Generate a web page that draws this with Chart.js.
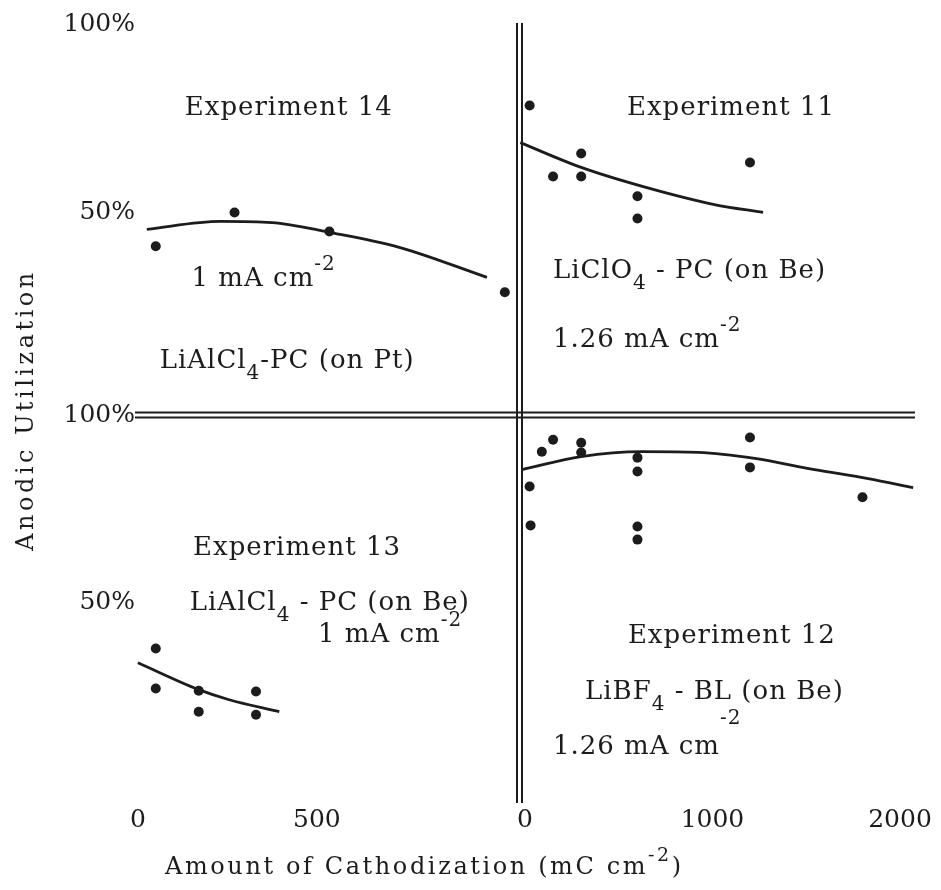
<!DOCTYPE html>
<html>
<head>
<meta charset="utf-8">
<script src="https://cdn.jsdelivr.net/npm/chart.js@4.4.1/dist/chart.umd.min.js"></script>
<style>
  html, body { margin: 0; padding: 0; background: #ffffff; }
  canvas { display: block; }
</style>
</head>
<body>
<canvas id="chart" width="941" height="890"></canvas>
<script>
// ---- Data (x: amount of cathodization, mC cm-2; y: anodic utilization, %) ----

// Experiment 14: LiAlCl4-PC on Pt, 1 mA cm-2 (upper left panel)
const exp14X = [50, 270, 535, 1025];
const exp14Y = [41.0, 50.0, 44.9, 28.7];
const exp14FitX = [25, 230, 375, 535, 730, 975];
const exp14FitY = [45.5, 47.6, 47.3, 44.7, 40.7, 32.7];

// Experiment 11: LiClO4 - PC on Be, 1.26 mA cm-2 (upper right panel)
const exp11X = [25, 150, 300, 300, 600, 600, 1200];
const exp11Y = [78.5, 59.6, 65.7, 59.6, 54.3, 48.4, 63.3];
const exp11FitX = [-25, 300, 650, 1010, 1270];
const exp11FitY = [68.6, 62.0, 56.6, 52.1, 50.0];

// Experiment 13: LiAlCl4 - PC on Be, 1 mA cm-2 (lower left panel)
const exp13X = [50, 50, 170, 170, 330, 330];
const exp13Y = [37.6, 26.9, 26.3, 20.7, 26.1, 19.9];
const exp13FitX = [0, 170, 255, 395];
const exp13FitY = [33.8, 26.6, 23.9, 20.7];

// Experiment 12: LiBF4 - BL on Be, 1.26 mA cm-2 (lower right panel)
const exp12X = [25, 30, 90, 150, 300, 300, 600, 600, 600, 600, 1200, 1200, 1800];
const exp12Y = [80.9, 70.5, 90.2, 93.4, 92.6, 90.0, 88.6, 84.9, 70.2, 66.7, 94.0, 86.0, 78.0];
const exp12FitX = [-15, 300, 625, 925, 1225, 1545, 1830, 2070];
const exp12FitY = [85.4, 88.9, 90.2, 90.0, 88.4, 85.4, 83.0, 80.6];

// Tick values
const leftTicks = [0, 500];
const rightTicks = [0, 1000, 2000];
const utilTicks = [50, 100];

// Panel labels ("_{..}" subscript, "^{..}" superscript), anchored in data units
const notes = [
  { text: 'Experiment 14', x: 131, y: 76.0, xAxis: 'xL', yAxis: 'yTop' },
  { text: 'Experiment 11', x: 544, y: 76.0, xAxis: 'xR', yAxis: 'yTop' },
  { text: '1 mA cm^{-2}', x: 150, y: 30.5, xAxis: 'xL', yAxis: 'yTop' },
  { text: 'LiClO_{4} - PC (on Be)', x: 149, y: 32.5, xAxis: 'xR', yAxis: 'yTop' },
  { text: '1.26 mA cm^{-2}', x: 149, y: 14.0, xAxis: 'xR', yAxis: 'yTop' },
  { text: 'LiAlCl_{4}-PC (on Pt)', x: 61, y: 8.5, xAxis: 'xL', yAxis: 'yTop' },
  { text: 'Experiment 13', x: 154, y: 62.5, xAxis: 'xL', yAxis: 'yBot' },
  { text: 'LiAlCl_{4} - PC (on Be)', x: 145, y: 48.0, xAxis: 'xL', yAxis: 'yBot' },
  { text: '1 mA cm^{-2}', x: 503, y: 39.4, xAxis: 'xL', yAxis: 'yBot' },
  { text: 'Experiment 12', x: 549, y: 39.0, xAxis: 'xR', yAxis: 'yBot' },
  { text: 'LiBF_{4} - BL (on Be)', x: 320, y: 24.0, xAxis: 'xR', yAxis: 'yBot' },
  { text: '1.26 mA cm^{-2}', x: 149, y: 9.5, xAxis: 'xR', yAxis: 'yBot', supRaise: 30 }
];

const INK = '#1c1c1c';
const SERIF = "'DejaVu Serif', 'Liberation Serif', serif";

function pts(xs, ys) { return xs.map((x, i) => ({ x: x, y: ys[i] })); }

function scatterSet(xs, ys, xAxisID, yAxisID) {
  return {
    data: pts(xs, ys), xAxisID, yAxisID,
    showLine: false, pointRadius: 5, pointBackgroundColor: INK,
    pointBorderColor: INK, pointBorderWidth: 0
  };
}
function fitSet(xs, ys, xAxisID, yAxisID) {
  return {
    data: pts(xs, ys), xAxisID, yAxisID,
    showLine: true, pointRadius: 0, borderColor: INK, borderWidth: 2.8,
    cubicInterpolationMode: 'monotone', fill: false
  };
}

// Split "_{}" / "^{}" markup into runs
function parseRich(str) {
  const out = [];
  const re = /([_^])\{([^}]*)\}/g;
  let last = 0, m;
  while ((m = re.exec(str))) {
    if (m.index > last) out.push({ t: str.slice(last, m.index), pos: null });
    out.push({ t: m[2], pos: m[1] === '_' ? 'sub' : 'sup' });
    last = re.lastIndex;
  }
  if (last < str.length) out.push({ t: str.slice(last), pos: null });
  return out;
}

function drawRich(ctx, str, x, y, o) {
  let cx = x;
  ctx.letterSpacing = (o.spacing || 0) + 'px';
  for (const run of parseRich(str)) {
    const size = run.pos ? o.small : o.size;
    ctx.font = size + 'px ' + o.family;
    const dy = run.pos === 'sup' ? -o.supRaise : run.pos === 'sub' ? o.subDrop : 0;
    ctx.fillText(run.t, cx, y + dy);
    cx += ctx.measureText(run.t).width;
  }
  ctx.letterSpacing = '0px';
  return cx;
}

// Double rules separating the four panels
const quadrantRules = {
  id: 'quadrantRules',
  beforeDatasetsDraw(chart) {
    const { ctx, chartArea, scales } = chart;
    const xm = scales.xR.left;
    const ym = scales.yBot.top;
    ctx.save();
    ctx.strokeStyle = INK;
    ctx.lineWidth = 2;
    ctx.beginPath();
    for (const d of [-2.5, 2.5]) {
      ctx.moveTo(xm + d, chartArea.top);
      ctx.lineTo(xm + d, chartArea.bottom);
      ctx.moveTo(chartArea.left, ym + d);
      ctx.lineTo(chartArea.right, ym + d);
    }
    ctx.stroke();
    ctx.restore();
  }
};

// Panel captions and axis titles
const captions = {
  id: 'captions',
  afterDraw(chart) {
    const { ctx, scales } = chart;
    ctx.save();
    ctx.fillStyle = INK;
    ctx.textBaseline = 'alphabetic';
    ctx.textAlign = 'left';
    for (const n of notes) {
      const px = scales[n.xAxis].getPixelForValue(n.x);
      const py = scales[n.yAxis].getPixelForValue(n.y);
      drawRich(ctx, n.text, px, py, {
        family: SERIF, size: 26, small: 20, spacing: 1,
        supRaise: n.supRaise || 16, subDrop: 11
      });
    }
    // x-axis title
    drawRich(ctx, 'Amount of Cathodization (mC cm^{-2})', 165, 874, {
      family: SERIF, size: 24, small: 19, spacing: 2.6, supRaise: 13, subDrop: 0
    });
    // y-axis title
    ctx.save();
    ctx.translate(33, 410);
    ctx.rotate(-Math.PI / 2);
    ctx.textAlign = 'center';
    ctx.letterSpacing = '3.5px';
    ctx.font = '24px ' + SERIF;
    ctx.fillText('Anodic Utilization', 0, 0);
    ctx.restore();
    ctx.restore();
  }
};

const tickFont = { family: SERIF, size: 25, lineHeight: 1 };

function xAxis(ticks, min, max, weight, stackWeight) {
  return {
    type: 'linear', position: 'bottom', stack: 'cathodization',
    min, max, weight, stackWeight,
    grid: { display: false }, border: { display: false },
    afterBuildTicks: s => { s.ticks = ticks.map(v => ({ value: v })); },
    afterFit: s => { s.height = 87; },
    ticks: { autoSkip: false, maxRotation: 0, padding: -3, color: INK, font: tickFont,
             callback: v => String(v) }
  };
}
function yAxis(min, max, weight, stackWeight) {
  return {
    type: 'linear', position: 'left', stack: 'utilization',
    min, max, weight, stackWeight,
    grid: { display: false }, border: { display: false },
    afterBuildTicks: s => { s.ticks = utilTicks.map(v => ({ value: v })); },
    afterFit: s => { s.width = 135; },
    ticks: { padding: -8, color: INK, font: tickFont, callback: v => v + '%' }
  };
}

new Chart(document.getElementById('chart'), {
  type: 'scatter',
  data: {
    datasets: [
      scatterSet(exp14X, exp14Y, 'xL', 'yTop'),
      fitSet(exp14FitX, exp14FitY, 'xL', 'yTop'),
      scatterSet(exp11X, exp11Y, 'xR', 'yTop'),
      fitSet(exp11FitX, exp11FitY, 'xR', 'yTop'),
      scatterSet(exp13X, exp13Y, 'xL', 'yBot'),
      fitSet(exp13FitX, exp13FitY, 'xL', 'yBot'),
      scatterSet(exp12X, exp12Y, 'xR', 'yBot'),
      fitSet(exp12FitX, exp12FitY, 'xR', 'yBot')
    ]
  },
  options: {
    responsive: false,
    animation: false,
    devicePixelRatio: 1,
    layout: { padding: { left: 0, right: 26, top: 23, bottom: 0 } },
    plugins: { legend: { display: false }, tooltip: { enabled: false } },
    scales: {
      xL: xAxis(leftTicks, -8, 1066, 1, 384.5),
      xR: xAxis(rightTicks, -29, 2080, 2, 395.5),
      yTop: yAxis(-4, 100.5, 2, 392),
      yBot: yAxis(-3.7, 100, 1, 388)
    }
  },
  plugins: [quadrantRules, captions]
});
</script>
</body>
</html>
